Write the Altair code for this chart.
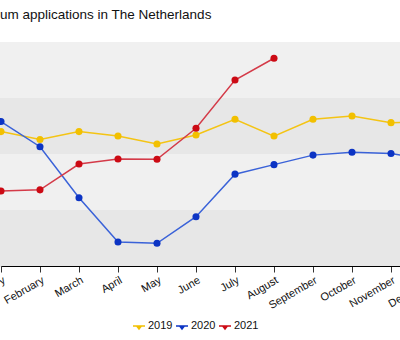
import altair as alt
import pandas as pd

months = ["January", "February", "March", "April", "May", "June", "July",
          "August", "September", "October", "November", "December"]
v2019 = [2400, 2260, 2400, 2320, 2180, 2340, 2620, 2320, 2620, 2680, 2560, 2580]
v2020 = [2580, 2130, 1220, 430, 405, 880, 1640, 1810, 1980, 2030, 2010, 1890]
v2021 = [1340, 1360, 1820, 1910, 1905, 2460, 3320, 3710]
years = ["2019", "2020", "2021"]

band_lo = [0, 1000, 2000, 3000]
band_hi = [1000, 2000, 3000, 4000]
grid_values = [1000, 2000, 3000, 4000]

FONT = "Liberation Sans"
line_colors = ["#f4c414", "#3a62d8", "#d43a48"]
point_colors = ["#f2c000", "#0c34c4", "#cc0a14"]
band_colors = ["#e7e7e7", "#f0f0f0", "#e7e7e7", "#f0f0f0"]

rows = []
for yr, vals in zip(years, [v2019, v2020, v2021]):
    for m, v in zip(months, vals):
        rows.append({"month": m, "year": yr, "value": v})
df = pd.DataFrame(rows)

bands = pd.DataFrame({"lo": band_lo, "hi": band_hi, "shade": band_colors})

yscale = alt.Scale(domain=[0, 4000], nice=False, zero=True)
xscale = alt.Scale(type="point", domain=months, range=[1, 430], padding=0)

bg = alt.Chart(bands).mark_rect().encode(
    y=alt.Y("lo:Q", scale=yscale,
            axis=alt.Axis(values=grid_values, labels=False, ticks=False,
                          domain=False, grid=True, gridColor="#d2d2d2",
                          gridWidth=1, title=None)),
    y2="hi:Q",
    color=alt.Color("shade:N", scale=None, legend=None),
)

x_enc = alt.X("month:N", scale=xscale, sort=months,
              axis=alt.Axis(title=None, domainColor="#000000", domainWidth=1,
                            tickColor="#333333", tickSize=6, tickWidth=1,
                            labelAngle=-30, labelAlign="right",
                            labelBaseline="top", labelPadding=2,
                            labelFont=FONT, labelFontSize=11,
                            labelColor="#111111", labelOverlap=False,
                            labelBound=False, grid=False))

lines = alt.Chart(df).mark_line(strokeWidth=1.5).encode(
    x=x_enc,
    y=alt.Y("value:Q", scale=yscale, axis=None),
    stroke=alt.Stroke("year:N", scale=alt.Scale(domain=years, range=line_colors),
                      legend=None),
)

points = alt.Chart(df).mark_point(filled=True, shape="circle", size=50,
                                  opacity=1).encode(
    x=alt.X("month:N", scale=xscale, sort=months),
    y=alt.Y("value:Q", scale=yscale, axis=None),
    fill=alt.Fill("year:N", scale=alt.Scale(domain=years, range=point_colors),
                  legend=alt.Legend(
                      orient="none", legendX=133, legendY=278,
                      direction="horizontal", title=None,
                      symbolType="M-1,-0.12H1V0.12H-1Z M-0.45,0.12L0,0.7L0.45,0.12Z",
                      symbolSize=144, symbolStrokeWidth=0,
                      labelFont=FONT, labelFontSize=11, labelColor="#111111",
                      labelOffset=3, columnPadding=3)),
)

chart = alt.layer(bg, lines, points).resolve_scale(
    color="independent", fill="independent", stroke="independent"
).properties(
    width=400, height=224,
    autosize=alt.AutoSizeParams(type="none"),
    padding={"left": 0, "top": 42, "right": 0, "bottom": 74},
    title=alt.TitleParams("Asylum applications in The Netherlands",
                          anchor="start", frame="group", dx=-25.5, dy=14,
                          fontSize=13.5, font=FONT,
                          fontWeight="normal", color="#111111",
                          baseline="alphabetic", offset=24),
).configure_view(stroke=None).configure(background="#ffffff")

chart.save("out.html", embed_options={"renderer": "svg", "actions": False})
